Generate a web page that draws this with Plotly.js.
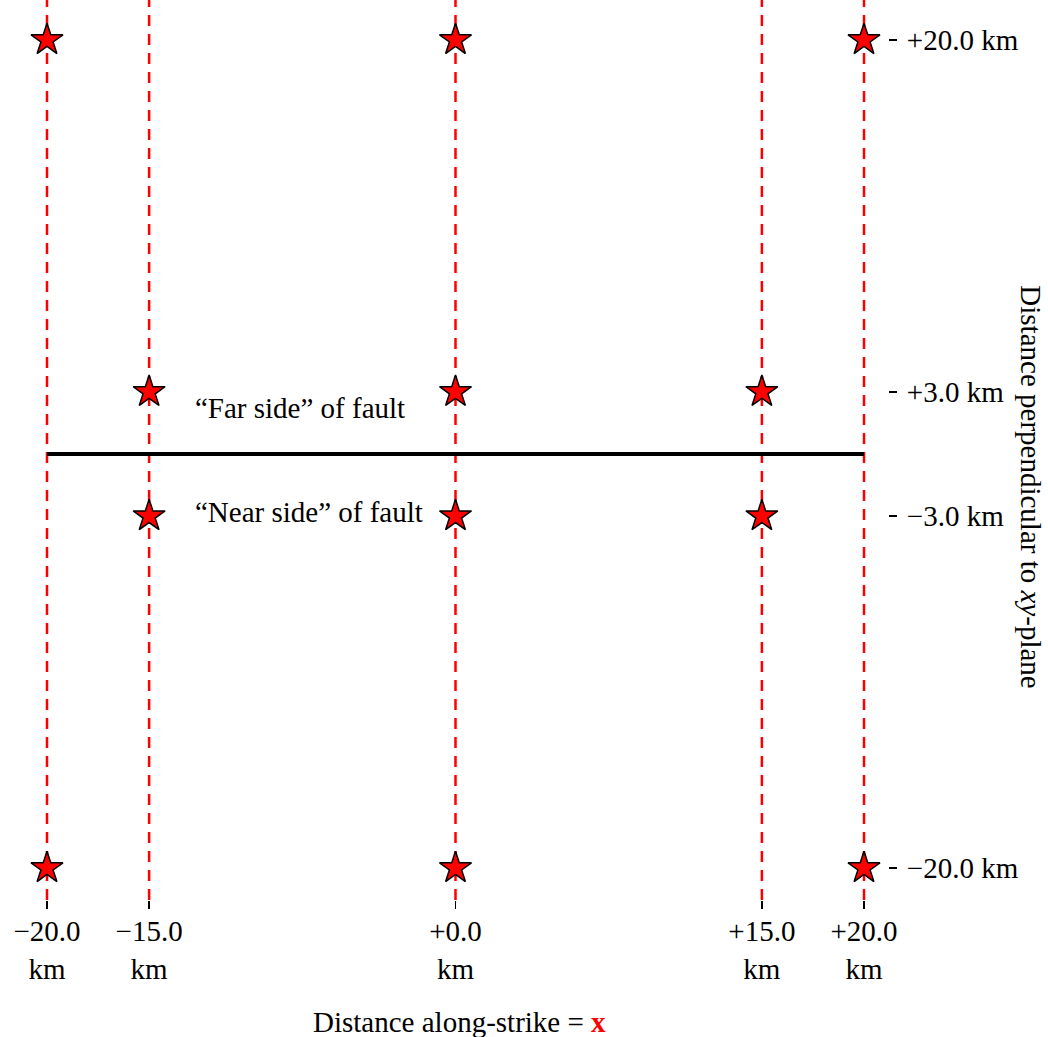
<!DOCTYPE html>
<html>
<head>
<meta charset="utf-8">
<script src="https://cdn.plot.ly/plotly-3.0.1.min.js"></script>
<style>html,body{margin:0;padding:0;background:#fff;}#chart{width:1048px;height:1037px;}</style>
</head>
<body>
<div id="chart"></div>
<script>
// Data
var stationX = [-20, -20, -15, -15, 0, 0, 0, 0, 15, 15, 20, 20];
var stationY = [20, -20, 3, -3, 20, 3, -3, -20, 3, -3, 20, -20];
var profileX = [-20, -15, 0, 15, 20];
var faultX = [-20, 20];
var faultY = [0, 0];
var xTickVals = [-20, -15, 0, 15, 20];
var xTickText = ["\u221220.0<br>km", "\u221215.0<br>km", "+0.0<br>km", "+15.0<br>km", "+20.0<br>km"];
var yTickVals = [-20, -3, 3, 20];
var yTickText = ["\u221220.0 km", "\u22123.0 km", "+3.0 km", "+20.0 km"];

var FONT = "Liberation Serif, Times New Roman, serif";
var FS = 29;

var shapes = profileX.map(function (v) {
  return {type: 'line', xref: 'x', yref: 'paper', x0: v, x1: v, y0: 0, y1: 1,
          layer: 'below', line: {color: 'red', width: 2.5, dash: '11px,8px'}};
});

var traces = [
  {x: faultX, y: faultY, mode: 'lines', line: {color: 'black', width: 4},
   hoverinfo: 'skip', showlegend: false},
  {x: stationX, y: stationY, mode: 'markers',
   marker: {symbol: 'star', size: 24, color: 'red', line: {color: 'black', width: 1.5}},
   showlegend: false}
];

var layout = {
  width: 1048, height: 1037,
  margin: {l: 23, r: 160, t: 0, b: 137},
  paper_bgcolor: 'white', plot_bgcolor: 'white',
  font: {family: FONT, size: FS, color: 'black'},
  showlegend: false,
  xaxis: {range: [-21.175, 21.175], showgrid: false, zeroline: false, showline: false,
          tickmode: 'array', tickvals: xTickVals, ticktext: xTickText,
          ticks: 'outside', ticklen: 8, tickwidth: 1.5, tickcolor: 'black',
          ticklabelstandoff: -3,
          tickfont: {family: FONT, size: FS, color: 'black'}, fixedrange: true},
  yaxis: {range: [-21.546, 21.932], side: 'right', showgrid: false, zeroline: false, showline: false,
          tickmode: 'array', tickvals: yTickVals, ticktext: yTickText,
          ticks: 'outside', ticklen: 8, tickwidth: 1.5, tickcolor: 'black',
          ticklabelstandoff: 4,
          tickfont: {family: FONT, size: FS, color: 'black'}, fixedrange: true},
  shapes: shapes,
  annotations: [
    {xref: 'x', yref: 'y', x: -12.85, y: 2.2, xanchor: 'left', yanchor: 'middle',
     text: '\u201cFar side\u201d of fault', showarrow: false, font: {family: FONT, size: FS}},
    {xref: 'x', yref: 'y', x: -12.85, y: -2.8, xanchor: 'left', yanchor: 'middle',
     text: '\u201cNear side\u201d of fault', showarrow: false, font: {family: FONT, size: FS}},
    {xref: 'paper', yref: 'paper', x: 0.505, y: -0.1356, xanchor: 'center', yanchor: 'middle',
     text: 'Distance along-strike = <b><span style="color:red">x</span></b>', showarrow: false,
     font: {family: FONT, size: FS}},
    {xref: 'paper', yref: 'paper', x: 1.166, y: 0.459, xanchor: 'center', yanchor: 'middle',
     textangle: 90, text: 'Distance perpendicular to <i>xy</i>-plane', showarrow: false,
     font: {family: FONT, size: FS}}
  ]
};

Plotly.newPlot('chart', traces, layout, {displayModeBar: false, staticPlot: true});
</script>
</body>
</html>
